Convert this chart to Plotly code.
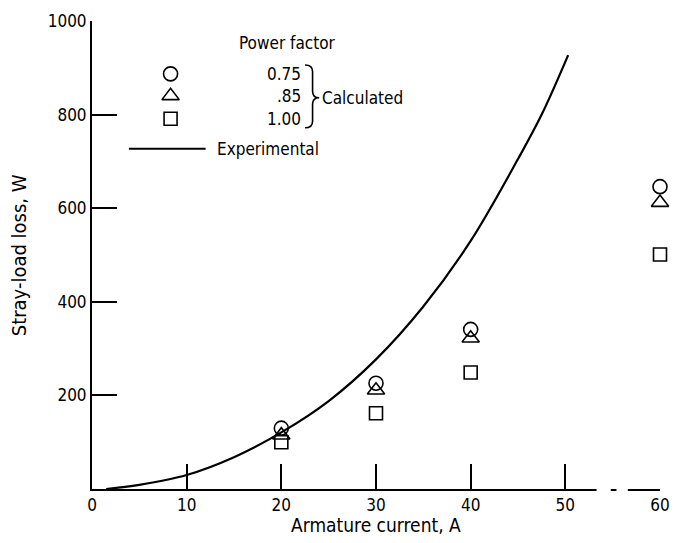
import plotly.graph_objects as go

# ---- data ----
current_calc = [20, 30, 40, 60]
loss_pf_075 = [130, 226, 341, 646]
loss_pf_085 = [115, 211, 322, 612]
loss_pf_100 = [100, 162, 249, 501]

exp_current = [1.5, 5, 10, 15, 20, 25, 30, 35, 40, 45, 47.5, 50.3]
exp_loss = [0, 9, 30, 68, 121, 188, 277, 390, 530, 705, 800, 927]

x_ticks = [0, 10, 20, 30, 40, 50, 60]
y_ticks = [200, 400, 600, 800, 1000]

pf_labels = ["0.75", ".85", "1.00"]
symbols = ["circle-open", "triangle-up-open", "square-open"]
sizes = [14, 15, 13]

TEXT_FONT = dict(family="DejaVu Sans Condensed, Liberation Sans Narrow, sans-serif", size=17, color="black")
NUM_FONT = dict(family="Liberation Sans Narrow, DejaVu Sans Condensed, sans-serif", size=17, color="black")

fig = go.Figure()

fig.add_trace(go.Scatter(x=exp_current, y=exp_loss, mode="lines",
                         line=dict(color="black", width=2.2, shape="spline", smoothing=1.0),
                         hoverinfo="skip"))

for vals, sym, sz in zip([loss_pf_075, loss_pf_085, loss_pf_100], symbols, sizes):
    fig.add_trace(go.Scatter(x=current_calc, y=vals, mode="markers", cliponaxis=False,
                             marker=dict(symbol=sym, size=sz, color="black", line=dict(width=1.6, color="black"))))

# ---- legend (drawn inside plot) ----
leg_x = 8.3
leg_y = [887, 840, 791]
for ly, sym, sz, lab in zip(leg_y, symbols, sizes, pf_labels):
    fig.add_trace(go.Scatter(x=[leg_x], y=[ly], mode="markers",
                             marker=dict(symbol=sym, size=sz, color="black", line=dict(width=1.6, color="black"))))
    fig.add_annotation(x=22.3, y=ly, text=lab, showarrow=False, xanchor="right", yanchor="middle", font=NUM_FONT)

fig.add_trace(go.Scatter(x=[3.9, 12.0], y=[727, 727], mode="lines", line=dict(color="black", width=2)))

fig.add_annotation(x=20.7, y=953, text="Power factor", showarrow=False, xanchor="center", yanchor="middle", font=TEXT_FONT)
fig.add_annotation(x=24.1, y=836, text="Calculated", showarrow=False, xanchor="left", yanchor="middle", font=TEXT_FONT)
fig.add_annotation(x=13.0, y=727, text="Experimental", showarrow=False, xanchor="left", yanchor="middle", font=TEXT_FONT)

# brace
fig.add_shape(type="path",
              path="M 22.5,906 Q 23.3,906 23.3,892 L 23.3,850 Q 23.3,836 24.0,836 Q 23.3,836 23.3,822 L 23.3,786 Q 23.3,772 22.5,772",
              line=dict(color="black", width=1.6), xref="x", yref="y")

# small gaps in x axis (as in the original)
fig.add_shape(type="line", x0=53.3, x1=54.8, y0=0, y1=0, line=dict(color="white", width=4), xref="x", yref="paper", layer="above")
fig.add_shape(type="line", x0=55.4, x1=56.6, y0=0, y1=0, line=dict(color="white", width=4), xref="x", yref="paper", layer="above")

# axis titles
fig.add_annotation(x=0.5, y=-0.077, xref="paper", yref="paper", text="Armature current, A", showarrow=False,
                   xanchor="center", yanchor="middle", font=dict(TEXT_FONT, size=19))
fig.add_annotation(x=-0.128, y=0.5, xref="paper", yref="paper", text="Stray-load loss, W", showarrow=False,
                   textangle=-90, xanchor="center", yanchor="middle", font=dict(TEXT_FONT, size=20))

fig.update_layout(
    width=681, height=543,
    margin=dict(l=92, r=11, t=20, b=54),
    paper_bgcolor="white", plot_bgcolor="white",
    showlegend=False,
    xaxis=dict(range=[0, 60], tickvals=x_ticks, ticktext=[str(v) for v in x_ticks],
               showgrid=False, zeroline=False, showline=True, linecolor="black", linewidth=2,
               ticks="inside", ticklen=25, tickwidth=1.6, tickcolor="black", tickfont=NUM_FONT,
               fixedrange=True),
    yaxis=dict(range=[0, 1000], tickvals=y_ticks, ticktext=[str(v) for v in y_ticks],
               showgrid=False, zeroline=False, showline=True, linecolor="black", linewidth=2,
               ticks="inside", ticklen=25, tickwidth=1.6, tickcolor="black", tickfont=NUM_FONT,
               fixedrange=True),
)

fig.write_html("out.html")
